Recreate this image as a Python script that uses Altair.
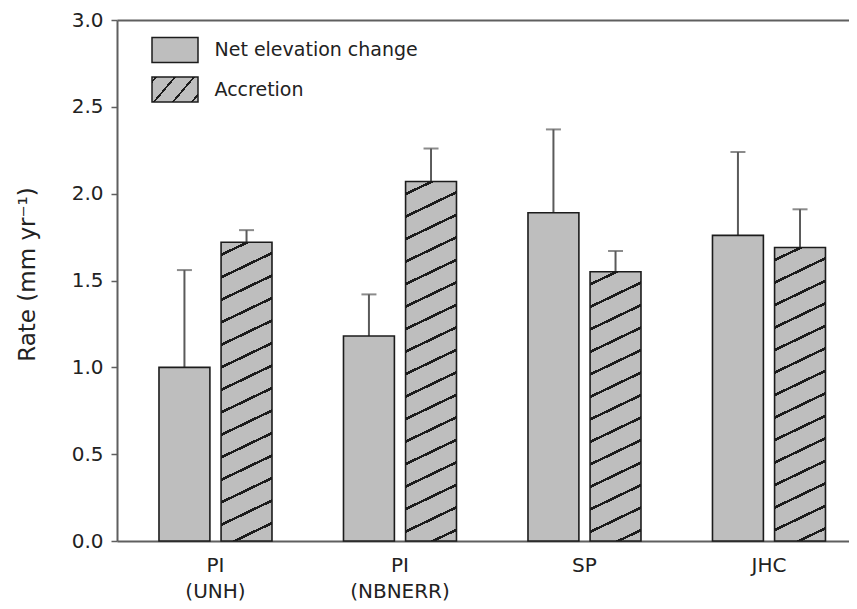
import math
import altair as alt
import pandas as pd

# ---------------- data ----------------
sites = ["PI (UNH)", "PI (NBNERR)", "SP", "JHC"]
series = ["Net elevation change", "Accretion"]
net_rate = [1.00, 1.18, 1.89, 1.76]
net_err = [0.56, 0.24, 0.48, 0.48]
acc_rate = [1.72, 2.07, 1.55, 1.69]
acc_err = [0.07, 0.19, 0.12, 0.22]
y_ticks = [0.0, 0.5, 1.0, 1.5, 2.0, 2.5, 3.0]

rows = []
for i, s in enumerate(sites):
    rows.append({"site": s, "series": series[0], "rate": net_rate[i], "top": net_rate[i] + net_err[i]})
    rows.append({"site": s, "series": series[1], "rate": acc_rate[i], "top": acc_rate[i] + acc_err[i]})
df = pd.DataFrame(rows)

# ---------------- layout / style ----------------
W, H = 732, 521
Y_MAX = 3.0
GRAY = "#bebebe"
INK = "#1c1c1c"
ERR = "#5a5a5a"
AXIS = "#5f5f5f"
FONT = "DejaVu Sans"

PAD_IN, PAD_OUT, ALIGN = 0.3875, 0.1775, 0.641
step = W / (len(sites) - PAD_IN + 2 * PAD_OUT)
group_bw = step * (1 - PAD_IN)
OFF_PAD = 0.18
bar_w = group_bw / (2 - OFF_PAD) * (1 - OFF_PAD)


def hatch(w, h, slope, period, lw, phase=0.5):
    """Linear gradient (bounding-box units) that paints '/' hatch lines."""
    D = slope * slope * w * w + h * h
    a = slope * w * period / D
    b = h * period / D
    n = math.ceil((h + slope * w) / period) + 1
    stops = [{"offset": 0, "color": GRAY}]
    for k in range(n):
        s0 = round((k + phase) / n, 5)
        s1 = round((k + phase + lw / period) / n, 5)
        stops += [
            {"offset": s0, "color": GRAY},
            {"offset": s0, "color": INK},
            {"offset": s1, "color": INK},
            {"offset": s1, "color": GRAY},
        ]
    stops.append({"offset": 1, "color": GRAY})
    return {"gradient": "linear", "x1": 0, "y1": 0,
            "x2": round(n * a, 6), "y2": round(n * b, 6), "stops": stops}


def js(o):
    if isinstance(o, dict):
        return "{" + ",".join(f"{k}:{js(v)}" for k, v in o.items()) + "}"
    if isinstance(o, list):
        return "[" + ",".join(js(v) for v in o) + "]"
    if isinstance(o, str):
        return "'" + o + "'"
    return repr(o)


acc_grads = [hatch(bar_w, r / Y_MAX * H, 0.48, 22.5, 2.8) for r in acc_rate]
legend_grad = hatch(46, 25, 1.18, 22.4, 2.8, phase=0.15)

x_scale = alt.Scale(domain=sites, paddingInner=PAD_IN, paddingOuter=PAD_OUT, align=ALIGN)
xo = alt.XOffset("series:N", scale=alt.Scale(domain=series, paddingInner=OFF_PAD, paddingOuter=0))
y_scale = alt.Scale(domain=[0, Y_MAX], nice=False, zero=True)
y_axis = alt.Axis(values=y_ticks, format=".1f", grid=False, tickSize=6, tickWidth=1.5,
                  tickColor=AXIS, domainColor=AXIS, domainWidth=2, labelFontSize=20,
                  labelColor="#222", labelPadding=8, title="Rate (mm yr⁻¹)",
                  titleFontSize=23, titleFontWeight="normal", titleColor="#222",
                  titleX=-78, titleY=254)

base = alt.Chart(df)

top_axis = alt.Axis(orient="top", labels=False, ticks=False, title=None,
                    domainColor=AXIS, domainWidth=2)
bottom_axis = alt.Axis(orient="bottom", ticks=False, title=None, labelAngle=0,
                       domainColor=AXIS, domainWidth=2, labelFontSize=20,
                       labelColor="#222", labelPadding=14, labelLineHeight=26,
                       labelExpr="split(datum.label, ' ')")

err_rule = base.mark_rule(color=ERR, strokeWidth=2).encode(
    x=alt.X("site:N", scale=x_scale, axis=top_axis),
    xOffset=xo,
    y=alt.Y("rate:Q", scale=y_scale, axis=y_axis),
    y2="top:Q",
)
err_cap = base.mark_tick(color=ERR, thickness=2, size=15).encode(
    x=alt.X("site:N", scale=x_scale, axis=None),
    xOffset=xo,
    y=alt.Y("top:Q", scale=y_scale, axis=y_axis),
)
net_bars = base.transform_filter(alt.datum.series == series[0]).mark_bar(
    stroke=INK, strokeWidth=1.6, opacity=1
).encode(
    x=alt.X("site:N", scale=x_scale, axis=bottom_axis),
    xOffset=xo,
    y=alt.Y("rate:Q", scale=y_scale, axis=y_axis),
    fill=alt.Fill("series:N",
                  scale=alt.Scale(domain=series, range=[GRAY, {"expr": js(legend_grad)}]),
                  legend=alt.Legend(title=None, orient="none", legendX=44.5, legendY=16.5,
                                    symbolType="M-1.84,-1H1.84V1H-1.84Z", symbolSize=625,
                                    symbolStrokeColor=INK, symbolStrokeWidth=1.5,
                                    symbolOpacity=1, labelFontSize=19, labelColor="#222",
                                    labelOffset=26, labelLimit=0, rowPadding=8.5, padding=0)),
)
acc_fill = alt.when(alt.datum.site == sites[0]).then(alt.value(acc_grads[0]))
for i in range(1, len(sites) - 1):
    acc_fill = acc_fill.when(alt.datum.site == sites[i]).then(alt.value(acc_grads[i]))
acc_fill = acc_fill.otherwise(alt.value(acc_grads[-1]))

acc_bars = base.transform_filter(alt.datum.series == series[1]).mark_bar(
    stroke=INK, strokeWidth=1.6, opacity=1
).encode(
    x=alt.X("site:N", scale=x_scale, axis=None),
    xOffset=xo,
    y=alt.Y("rate:Q", scale=y_scale, axis=y_axis),
    fill=acc_fill,
)

chart = (
    alt.layer(err_rule, err_cap, net_bars, acc_bars)
    .resolve_axis(x="independent")
    .properties(width=W, height=H, autosize=alt.AutoSizeParams(type="none"),
                padding={"left": 109, "top": 12, "right": 0, "bottom": 60},
                background="white")
    .configure(font=FONT)
    .configure_view(stroke=None)
)

chart.save("out.html", embed_options={"renderer": "svg", "actions": False})
